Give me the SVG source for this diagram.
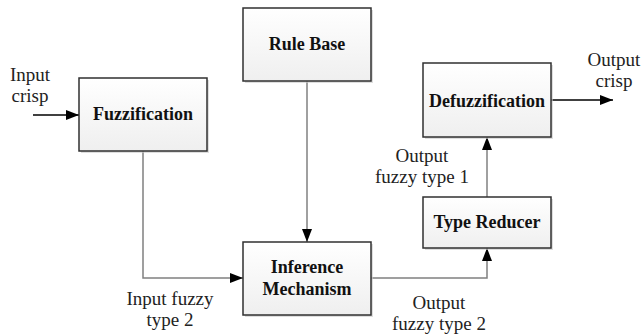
<svg xmlns="http://www.w3.org/2000/svg" width="641" height="336" viewBox="0 0 641 336">
<style>
.box{fill:url(#g);stroke:#303030;stroke-width:1.5}
.sh{fill:#c8c8c8;opacity:0.6}
.bt{font-family:"Liberation Serif",serif;font-weight:bold;font-size:18px;fill:#111;text-anchor:middle}
.lt{font-family:"Liberation Serif",serif;font-size:19px;fill:#222;text-anchor:middle}
.c{fill:none;stroke:#808080;stroke-width:1.5}
.k{fill:none;stroke:#000;stroke-width:1.3}
</style>
<defs>
<linearGradient id="g" x1="0" y1="0" x2="0" y2="1">
<stop offset="0" stop-color="#ffffff"/>
<stop offset="1" stop-color="#efefef"/>
</linearGradient>
<marker id="a" markerUnits="userSpaceOnUse" markerWidth="14" markerHeight="10" refX="13" refY="5" orient="auto">
<path d="M0,0 L13,5 L0,10 Z" fill="#000"/>
</marker>
</defs>
<g id="connectors">
<path class="k" d="M33 115 H79" marker-end="url(#a)"/>
<path class="c" d="M143 151 V278 H243" marker-end="url(#a)"/>
<path class="c" d="M307 81 V242" marker-end="url(#a)"/>
<path class="c" d="M371 278 H487 V248" marker-end="url(#a)"/>
<path class="c" d="M487 197 V137" marker-end="url(#a)"/>
<path class="k" d="M551 100 H613" marker-end="url(#a)"/>
</g>
<g id="fuzzification">
<rect class="sh" x="81" y="80" width="128" height="73"/>
<rect class="box" x="79" y="78" width="128" height="73"/>
<text class="bt" x="143" y="120">Fuzzification</text>
</g>
<g id="rulebase">
<rect class="sh" x="245" y="10" width="128" height="73"/>
<rect class="box" x="243" y="8" width="128" height="73"/>
<text class="bt" x="307" y="50">Rule Base</text>
</g>
<g id="defuzzification">
<rect class="sh" x="425" y="65" width="128" height="74"/>
<rect class="box" x="423" y="63" width="128" height="74"/>
<text class="bt" x="487" y="107">Defuzzification</text>
</g>
<g id="typereducer">
<rect class="sh" x="425" y="199" width="128" height="51"/>
<rect class="box" x="423" y="197" width="128" height="51"/>
<text class="bt" x="487" y="228">Type Reducer</text>
</g>
<g id="inference">
<rect class="sh" x="245" y="244" width="128" height="73"/>
<rect class="box" x="243" y="242" width="128" height="73"/>
<text class="bt" x="307" y="273">Inference</text>
<text class="bt" x="307" y="295">Mechanism</text>
</g>
<g id="labels">
<text class="lt" x="30" y="81">Input</text>
<text class="lt" x="30" y="102">crisp</text>
<text class="lt" x="614" y="66">Output</text>
<text class="lt" x="614" y="87">crisp</text>
<text class="lt" x="422" y="162">Output</text>
<text class="lt" x="422" y="183">fuzzy type 1</text>
<text class="lt" x="170" y="305">Input fuzzy</text>
<text class="lt" x="170" y="326">type 2</text>
<text class="lt" x="439" y="309">Output</text>
<text class="lt" x="439" y="330">fuzzy type 2</text>
</g>
</svg>
